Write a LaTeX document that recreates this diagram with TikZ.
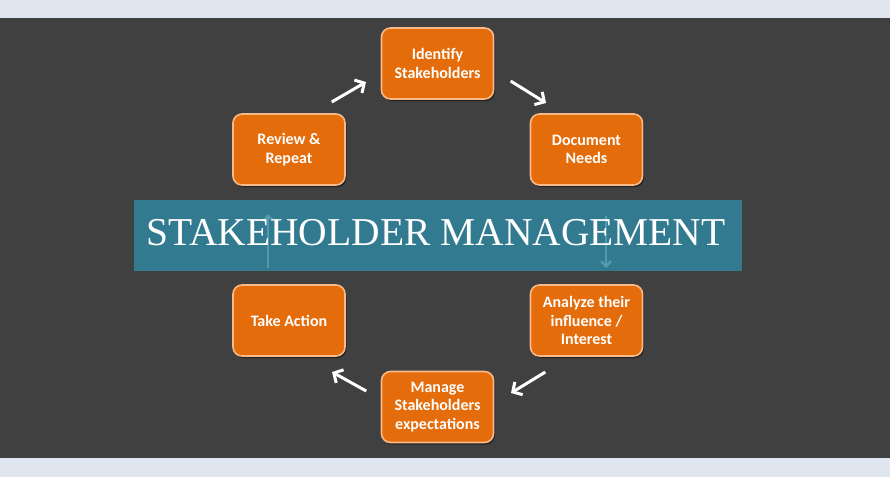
\documentclass[tikz,border=0pt]{standalone}
\usepackage{fontspec}
\setmainfont{Carlito}
\newfontfamily\bannerfont{Liberation Serif}
\usetikzlibrary{shadows,arrows.meta}
\definecolor{bandc}{HTML}{DFE6F0}
\definecolor{bgc}{HTML}{404040}
\definecolor{boxc}{HTML}{E46C0A}
\definecolor{boxedge}{HTML}{F9B988}
\definecolor{bannerc}{HTML}{317A8F}
\definecolor{ghostc}{HTML}{6AAFC2}
\tikzset{
  stepbox/.style={draw=boxedge, line width=1.6pt, fill=boxc, rounded corners=9pt,
    minimum width=112pt, minimum height=71pt, align=center, text=white,
    font=\bfseries\fontsize{16}{18.5}\selectfont,
    drop shadow={shadow xshift=1.5pt, shadow yshift=-2pt, opacity=0.45, fill=black}},
  flow/.style={draw=white, line width=3pt, -{Straight Barb[length=7pt,width=15pt,line width=3pt]}, shorten <=2pt},
  ghost/.style={draw=ghostc, line width=2.5pt, opacity=0.6, -{Straight Barb[length=5pt,width=10pt]}}
}
\begin{document}
\begin{tikzpicture}[x=1pt,y=-1pt]
\useasboundingbox (0,0) rectangle (890,477);
\fill[bandc] (0,0) rectangle (890,477);
\fill[bgc] (0,18) rectangle (890,458);
% banner
\fill[bannerc] (134,200) rectangle (742,271);
\draw[ghost] (268,268) -- (268,214);
\draw[ghost] (606,216) -- (606,268);
\node (title) [text=white, font=\bannerfont\fontsize{39.5}{42}\selectfont] at (436,233) {STAKEHOLDER MANAGEMENT};
% boxes
\node[stepbox] (ident) at (437.5,63.5) {Identify\\Stakeholders};
\node[stepbox] (docu) at (586.5,149.5) {Document\\Needs};
\node[stepbox] (analy) at (586.5,320.5) {Analyze their\\influence /\\Interest};
\node[stepbox] (manage) at (437.5,407) {Manage\\Stakeholders\\expectations};
\node[stepbox] (action) at (289,320.5) {Take Action};
\node[stepbox] (review) at (289,149.5) {Review \&\\Repeat};
% arrows
\coordinate (a1s) at (330,103); \coordinate (a1e) at (366,82);
\coordinate (a2s) at (509,80); \coordinate (a2e) at (546,103);
\coordinate (a3s) at (547,371); \coordinate (a3e) at (511,393);
\coordinate (a4s) at (368,392); \coordinate (a4e) at (332,372);
\draw[flow] (a1s) -- (a1e);
\draw[flow] (a2s) -- (a2e);
\draw[flow] (a3s) -- (a3e);
\draw[flow] (a4s) -- (a4e);
\end{tikzpicture}
\end{document}
